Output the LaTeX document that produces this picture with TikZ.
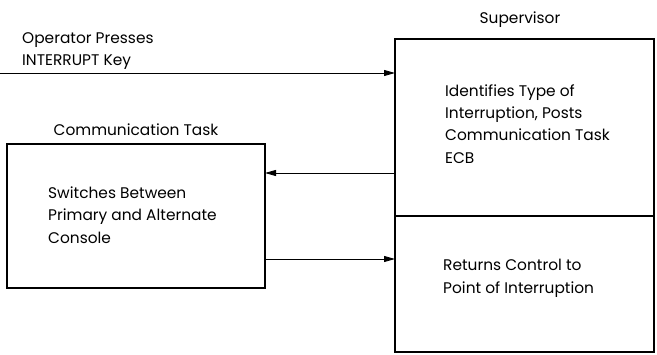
\documentclass[tikz,border=0pt]{standalone}
\usepackage{fontspec}
\setmainfont{Poppins}
\usetikzlibrary{arrows.meta}
\begin{document}
\begin{tikzpicture}[x=1pt,y=-1pt,
  box/.style={draw,line width=1.6pt},
  flow/.style={line width=0.9pt,-{Triangle[length=11pt,width=6pt]}},
  lbl/.style={font=\fontsize{15.4}{22.3}\selectfont,inner sep=0pt},
  txt/.style={lbl,align=left,anchor=base west}]
  \useasboundingbox (0,0) rectangle (657,355);
  % Supervisor box (two stacked parts)
  \draw[box] (395,39) rectangle (654,216);
  \draw[box] (395,216) rectangle (654,352);
  \coordinate (supTopL) at (395,73);
  \coordinate (supMidL) at (395,173);
  \coordinate (supLowL) at (395,259);
  % Communication task box
  \draw[box] (7,144) rectangle (265,288);
  \coordinate (ctR1) at (265,173);
  \coordinate (ctR2) at (265,259);
  \coordinate (opStart) at (0,73);
  % Titles
  \node[lbl,anchor=base] (suptitle) at (520,23.3) {Supervisor};
  \node[lbl,anchor=base] (cttitle) at (136,136) {Communication Task};
  % Multi-line labels are placed by the baseline of their last line
  \node[txt] (op) at (22,65.7) {Operator Presses\\INTERRUPT Key};
  % Box contents
  \node[txt] (ident) at (445,163.3) {Identifies Type of\\Interruption, Posts\\Communication Task\\ECB};
  \node[txt] (switch) at (48,243.3) {Switches Between\\Primary and Alternate\\Console};
  \node[txt] (ret) at (443,293.3) {Returns Control to\\Point of Interruption};
  % Connectors
  \draw[flow] (opStart) -- (supTopL);
  \draw[flow] (supMidL) -- (ctR1);
  \draw[flow] (ctR2) -- (supLowL);
\end{tikzpicture}
\end{document}
